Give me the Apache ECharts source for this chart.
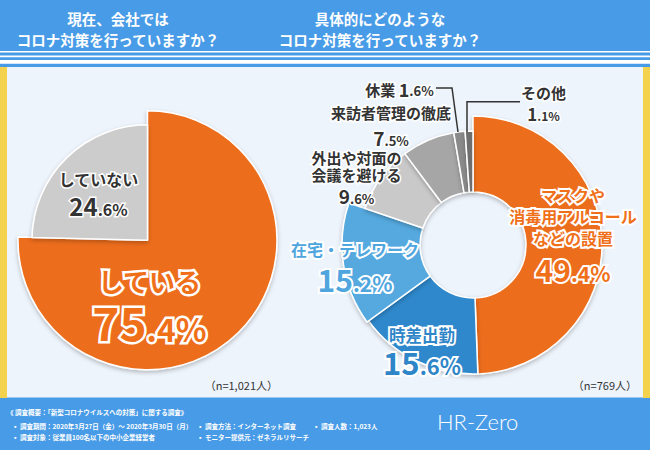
<!DOCTYPE html>
<html><head><meta charset="utf-8">
<script src="https://cdn.jsdelivr.net/npm/echarts@6/dist/echarts.min.js"></script>
<style>html,body{margin:0;padding:0;background:#EEF4FC}#c{width:650px;height:450px}</style>
</head><body><div id="c"></div>
<script>
// ---- data ----
const leftCats = ['している', 'していない'];
const leftVals = [75.4, 24.6];
const rightCats = ['マスクや\n消毒用アルコール\nなどの設置', '時差出勤', '在宅・テレワーク', '外出や対面の\n会議を避ける', '来訪者管理の徹底', '休業', 'その他'];
const rightVals = [49.4, 15.6, 15.2, 9.6, 7.5, 1.6, 1.1];
const titles = ['現在、会社では\nコロナ対策を行っていますか？', '具体的にどのような\nコロナ対策を行っていますか？'];
const sampleSizes = ['（n=1,021人）', '（n=769人）'];
const footerLines = [
  '《 調査概要：「新型コロナウイルスへの対策」に関する調査》',
  '▪ 調査期間：2020年3月27日（金）～ 2020年3月30日（月）',
  '▪ 調査方法：インターネット調査',
  '▪ 調査人数：1,023人',
  '▪ 調査対象：従業員100名以下の中小企業経営者',
  '▪ モニター提供元：ゼネラルリサーチ'
];

// ---- styles ----
const FONT = '"Noto Sans CJK JP", "Noto Sans", sans-serif';
const ORANGE = '#EC6D1B';
const leftColors = [ORANGE, '#CCCCCC'];
const leftRadius = [129.5, 115.5];
const rightColors = [ORANGE, '#2E88CB', '#55A9DF', '#C9C9C9', '#A6A6A6', '#8A8A8A', '#6E6E6E'];
const rightRadius = [129, 129, 131, 114, 114, 114, 114];

// label placement: x = centre, yc = first text line centre, pc = percentage line centre
const leftSpecs = [
  {x: 149.5, yc: 281, tF: 26, tL: 34, pc: 321, pF1: 46, pF2: 32, color: '#F07019', bw: 5},
  {x: 98.5, yc: 179.5, tF: 16, tL: 22, pc: 205.5, pF1: 24, pF2: 16, color: '#333333', bw: 3}
];
const rightSpecs = [
  {x: 573, yc: 195, tF: 16, tL: 21.5, pc: 268.5, pF1: 30, pF2: 21, color: '#F07019', bw: 4},
  {x: 422, yc: 335, tF: 16.5, tL: 22, pc: 361, pF1: 31, pF2: 22, color: '#2E86C8', bw: 4},
  {x: 355, yc: 249.5, tF: 16, tL: 22, pc: 278.5, pF1: 30, pF2: 21, color: '#4FA6DE', bw: 4},
  {x: 356.5, yc: 157.5, tF: 15, tL: 17.5, pc: 196, pF1: 19, pF2: 13, color: '#333333', bw: 3},
  {x: 391, yc: 112.5, tF: 15, tL: 18, pc: 137.5, pF1: 19, pF2: 13, color: '#333333', bw: 3},
  {x: 399.5, yc: 90, tF: 15, tL: 20, pc: 90, pF1: 18, pF2: 13, color: '#333333', bw: 3, inline: true},
  {x: 543.5, yc: 92.5, tF: 15, tL: 18, pc: 113.5, pF1: 17, pF2: 12, color: '#333333', bw: 3}
];

function geom(s, name) {
  // zrender: bottom-aligned token centre = lineTop + lineHeight - fontSize/2
  if (s.inline) return {top: s.yc - s.tL + s.tF / 2, pL: s.tL};
  const n = name.split('\n').length;
  const top = s.yc - s.tL + s.tF / 2;
  const pTop = top + n * s.tL;
  return {top: top, pL: s.pc - pTop + s.pF1 / 2};
}
function richFor(s, name) {
  const g = geom(s, name);
  const base = {fontWeight: 'bold', color: s.color, textBorderColor: '#fff', textBorderWidth: s.bw, fontFamily: FONT, verticalAlign: 'bottom'};
  return {
    t: Object.assign({}, base, {fontSize: s.tF, lineHeight: s.tL}),
    b: Object.assign({}, base, {fontSize: s.pF1, lineHeight: g.pL}),
    s: Object.assign({}, base, {fontSize: s.pF2})
  };
}
function labelText(name, value, inline) {
  const parts = value.toFixed(1).split('.');
  const pct = '{b|' + parts[0] + '}{s|.' + parts[1] + '%}';
  if (inline) return '{t|' + name + ' }' + pct;
  return name.split('\n').map(l => '{t|' + l + '}').join('\n') + '\n' + pct;
}

function buildPie(cats, vals, colors, radii, specs, center, inner, shadow) {
  const groups = [...new Set(radii)];
  return groups.map(r => ({
    type: 'pie', center: center, radius: [inner, r], startAngle: 90, clockwise: true,
    avoidLabelOverlap: false, silent: true, animation: false,
    labelLine: {show: false},
    label: {show: true, position: 'outside',
      formatter: p => labelText(cats[p.dataIndex], vals[p.dataIndex], specs[p.dataIndex].inline)},
    labelLayout: p => {
      const s = specs[p.dataIndex];
      return {x: s.x, y: geom(s, cats[p.dataIndex]).top, align: 'center', verticalAlign: 'top'};
    },
    data: cats.map((c, i) => radii[i] === r ? {
      name: c, value: vals[i],
      itemStyle: Object.assign({color: colors[i], borderColor: '#fff', borderWidth: 1.5}, shadow),
      label: {rich: richFor(specs[i], c)}
    } : {
      name: c, value: vals[i],
      itemStyle: {color: 'rgba(0,0,0,0)', borderWidth: 0},
      label: {show: false}
    })
  }));
}

const shadow = {shadowBlur: 4, shadowColor: 'rgba(0,0,0,0.25)', shadowOffsetY: 2};

const BLUE = '#489BE6';
const YELLOW = '#F5D24E';

function txt(x, y, text, opts) {
  return {type: 'text', x: x, y: y, silent: true, style: Object.assign({
    text: text, fill: '#fff', fontFamily: FONT, fontSize: 12,
    align: 'left', verticalAlign: 'middle', textAlign: 'left', textVerticalAlign: 'middle'
  }, opts)};
}

const graphic = [
  {type: 'rect', shape: {x: 0, y: 0, width: 650, height: 67}, style: {fill: BLUE}, z: -10},
  {type: 'rect', shape: {x: 0, y: 51, width: 650, height: 1.5}, style: {fill: '#fff'}, z: -9},
  {type: 'rect', shape: {x: 0, y: 55.5, width: 650, height: 1.8}, style: {fill: '#fff'}, z: -9},
  {type: 'rect', shape: {x: 0, y: 60, width: 650, height: 3.7}, style: {fill: '#fff'}, z: -9},
  {type: 'rect', shape: {x: 0, y: 67, width: 7, height: 331}, style: {fill: YELLOW}, z: -9},
  {type: 'rect', shape: {x: 643, y: 67, width: 7, height: 331}, style: {fill: YELLOW}, z: -9},
  {type: 'rect', shape: {x: 0, y: 397.5, width: 650, height: 52.5}, style: {fill: BLUE}, z: -10},
  txt(118, 28.5, titles[0], {fontSize: 14.5, fontWeight: 'bold', lineHeight: 21, align: 'center', textAlign: 'center'}),
  txt(380, 28.5, titles[1], {fontSize: 14.5, fontWeight: 'bold', lineHeight: 21, align: 'center', textAlign: 'center'}),
  txt(278, 385, sampleSizes[0], {fill: '#333', fontSize: 11, align: 'right', textAlign: 'right'}),
  txt(637, 385, sampleSizes[1], {fill: '#333', fontSize: 11, align: 'right', textAlign: 'right'}),
  txt(7, 412, footerLines[0], {fontSize: 6.5, fontWeight: 'bold'}),
  txt(12, 425.5, footerLines[1], {fontSize: 6.5, fontWeight: 'bold'}),
  txt(197, 425.5, footerLines[2], {fontSize: 6.5, fontWeight: 'bold'}),
  txt(313, 425.5, footerLines[3], {fontSize: 6.5, fontWeight: 'bold'}),
  txt(12, 437, footerLines[4], {fontSize: 6.5, fontWeight: 'bold'}),
  txt(197, 437, footerLines[5], {fontSize: 6.5, fontWeight: 'bold'}),
  txt(437, 421, 'HR-Zero', {fontFamily: 'Lato, Roboto, sans-serif', fontWeight: 300, fontSize: 22}),
  {type: 'polyline', silent: true, shape: {points: [[436, 88], [452, 88], [458, 132]]}, style: {stroke: '#333', lineWidth: 1.5, fill: null}, z: 10},
  {type: 'polyline', silent: true, shape: {points: [[520, 101.7], [467, 101.7], [467, 132]]}, style: {stroke: '#333', lineWidth: 1.5, fill: null}, z: 10}
];

const chart = echarts.init(document.getElementById('c'), null, {renderer: 'svg', width: 650, height: 450});
chart.setOption({
  backgroundColor: '#EEF4FC',
  animation: false,
  graphic: graphic,
  series: [].concat(
    buildPie(leftCats, leftVals, leftColors, leftRadius, leftSpecs, [147.5, 240.3], 0, shadow),
    buildPie(rightCats, rightVals, rightColors, rightRadius, rightSpecs, [473, 245], 53, shadow)
  )
});
</script></body></html>
